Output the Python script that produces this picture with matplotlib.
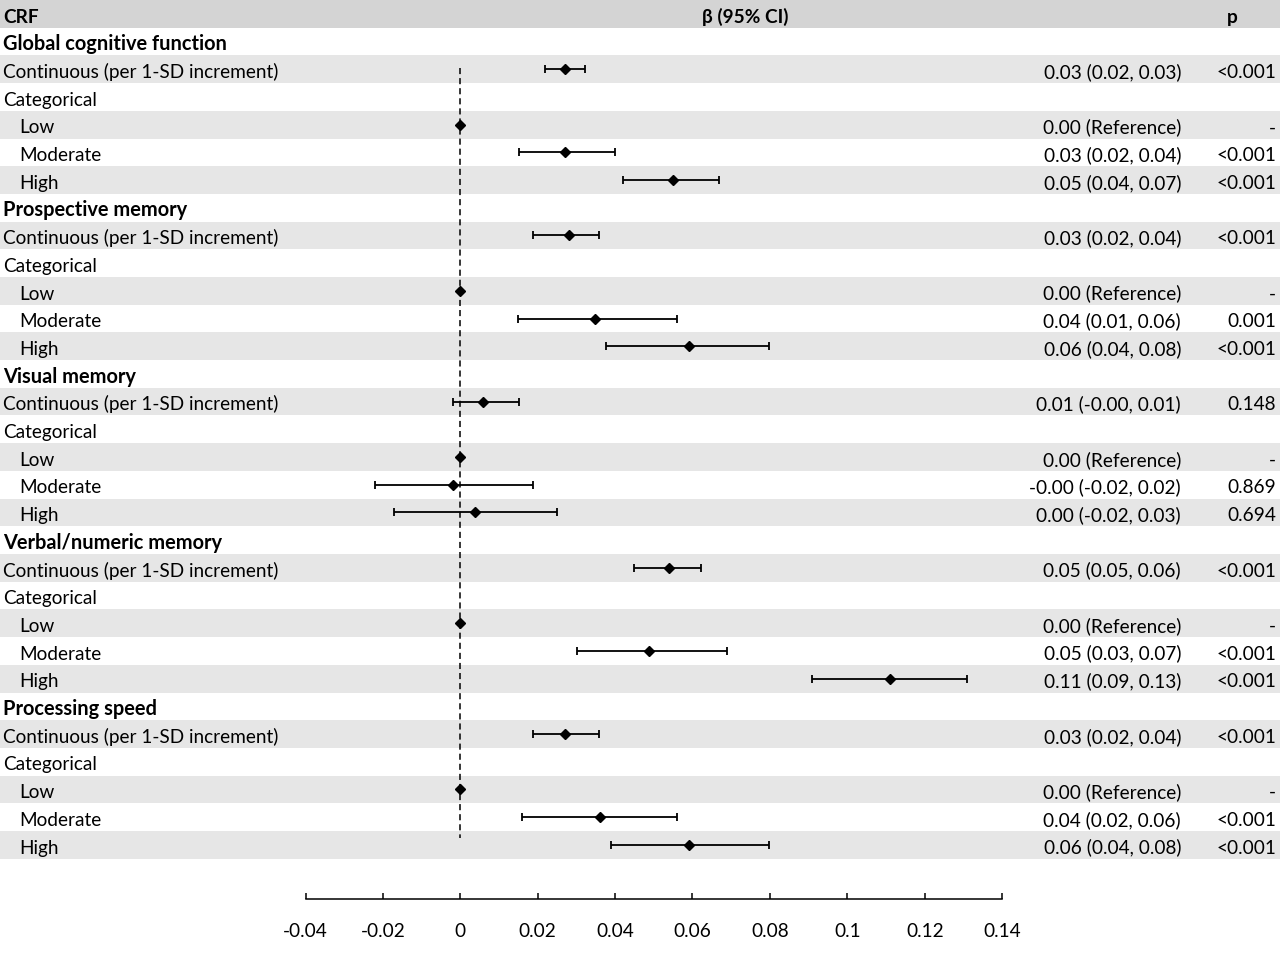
import numpy as np
import matplotlib
matplotlib.use("Agg")
import matplotlib.pyplot as plt
import matplotlib.transforms as mtransforms
from matplotlib.patches import Rectangle

plt.rcParams['font.family'] = ['Lato', 'DejaVu Sans']
plt.rcParams['axes.unicode_minus'] = False

FS = 13.7
FS_BOLD = 14.4

# --- data ---
domains = ["Global cognitive function", "Prospective memory", "Visual memory",
           "Verbal/numeric memory", "Processing speed"]

cont_est = [0.0271, 0.0281, 0.0059, 0.0539, 0.0271]
cont_lo = [0.0219, 0.0187, -0.0020, 0.0449, 0.0187]
cont_hi = [0.0321, 0.0358, 0.0152, 0.0621, 0.0358]
mod_est = [0.0271, 0.0348, -0.0019, 0.0488, 0.0360]
mod_lo = [0.0151, 0.0149, -0.0220, 0.0302, 0.0160]
mod_hi = [0.0400, 0.0559, 0.0188, 0.0689, 0.0559]
high_est = [0.0550, 0.0590, 0.0038, 0.1111, 0.0590]
high_lo = [0.0420, 0.0377, -0.0171, 0.0909, 0.0390]
high_hi = [0.0669, 0.0798, 0.0250, 0.1309, 0.0798]

cont_txt = ["0.03 (0.02, 0.03)", "0.03 (0.02, 0.04)", "0.01 (-0.00, 0.01)",
            "0.05 (0.05, 0.06)", "0.03 (0.02, 0.04)"]
mod_txt = ["0.03 (0.02, 0.04)", "0.04 (0.01, 0.06)", "-0.00 (-0.02, 0.02)",
           "0.05 (0.03, 0.07)", "0.04 (0.02, 0.06)"]
high_txt = ["0.05 (0.04, 0.07)", "0.06 (0.04, 0.08)", "0.00 (-0.02, 0.03)",
            "0.11 (0.09, 0.13)", "0.06 (0.04, 0.08)"]
cont_p = ["<0.001", "<0.001", "0.148", "<0.001", "<0.001"]
mod_p = ["<0.001", "0.001", "0.869", "<0.001", "<0.001"]
high_p = ["<0.001", "<0.001", "0.694", "<0.001", "<0.001"]
ref_txt = "0.00 (Reference)"
ref_p = "-"

xticks = [-0.04, -0.02, 0, 0.02, 0.04, 0.06, 0.08, 0.1, 0.12, 0.14]
xticklabels = ["-0.04", "-0.02", "0", "0.02", "0.04", "0.06", "0.08", "0.1", "0.12", "0.14"]

# rows: (label, bold, indent, est, lo, hi, beta text, p text)
rows = []
for k, d in enumerate(domains):
    rows.append((d, True, False, None, None, None, "", ""))
    rows.append(("Continuous (per 1-SD increment)", False, False,
                 cont_est[k], cont_lo[k], cont_hi[k], cont_txt[k], cont_p[k]))
    rows.append(("Categorical", False, False, None, None, None, "", ""))
    rows.append(("Low", False, True, 0.0, None, None, ref_txt, ref_p))
    rows.append(("Moderate", False, True, mod_est[k], mod_lo[k], mod_hi[k], mod_txt[k], mod_p[k]))
    rows.append(("High", False, True, high_est[k], high_lo[k], high_hi[k], high_txt[k], high_p[k]))

# --- layout (pixel based) ---
W, H = 1280, 961
ROW = 27.7
BASE = 8.7 / ROW   # baseline offset below the row centre
ax_left, ax_right, ax_bottom = 305.5, 1002.1, 899.3

fig = plt.figure(figsize=(W / 100, H / 100), dpi=100)
ax = fig.add_axes([ax_left / W, (H - ax_bottom) / H, (ax_right - ax_left) / W, ax_bottom / H])
ax.set_xlim(-0.04, 0.14)
ax.set_ylim(ax_bottom / ROW - 0.5, -0.5)

trans = mtransforms.blended_transform_factory(fig.transFigure, ax.transData)

n = len(rows) + 1
for i in range(n):
    if i % 2 == 0:
        col = '#d4d4d4' if i == 0 else '#e6e6e6'
        ax.add_patch(Rectangle((0, i - 0.5), 1, 1, transform=trans, facecolor=col,
                               edgecolor='none', clip_on=False, zorder=0))


def put(x, y, s, ha='left', bold=False, size=FS):
    ax.text(x / W, y + BASE, s, transform=trans, ha=ha, va='baseline', fontsize=size,
            fontweight='bold' if bold else 'normal')


# header
put(3, 0, "CRF", bold=True)
put(745, 0, "β (95% CI)", ha='center', bold=True)
put(1232, 0, "p", ha='center', bold=True)

for i, (lab, bold, indent, est, lo, hi, btxt, ptxt) in enumerate(rows, start=1):
    put(19 if indent else 3, i, lab, bold=bold, size=FS_BOLD if bold else FS)
    if btxt:
        put(1181, i, btxt, ha='right')
        put(1276, i, ptxt, ha='right')
    if est is None:
        continue
    if lo is None:
        ax.plot([est], [i], marker='D', ms=4.6, color='black', zorder=4)
    else:
        ax.errorbar([est], [i], xerr=[[est - lo], [hi - est]], fmt='D', ms=4.6,
                    color='black', ecolor='black', elinewidth=1.3, capsize=3,
                    capthick=1.3, zorder=4)

# reference line at zero
ax.vlines(0, 1.955, 29.75, colors='black', linestyles=(0, (4, 2.6)), linewidth=1.1, zorder=3)

for s in ['left', 'top', 'right']:
    ax.spines[s].set_visible(False)
ax.spines['bottom'].set_linewidth(1.1)
ax.set_yticks([])
ax.set_xticks(xticks)
ax.set_xticklabels(xticklabels, fontsize=FS)
ax.tick_params(axis='x', direction='in', length=4.5, width=1.1, pad=17)
ax.patch.set_visible(False)

fig.savefig("out.png", dpi=100)
